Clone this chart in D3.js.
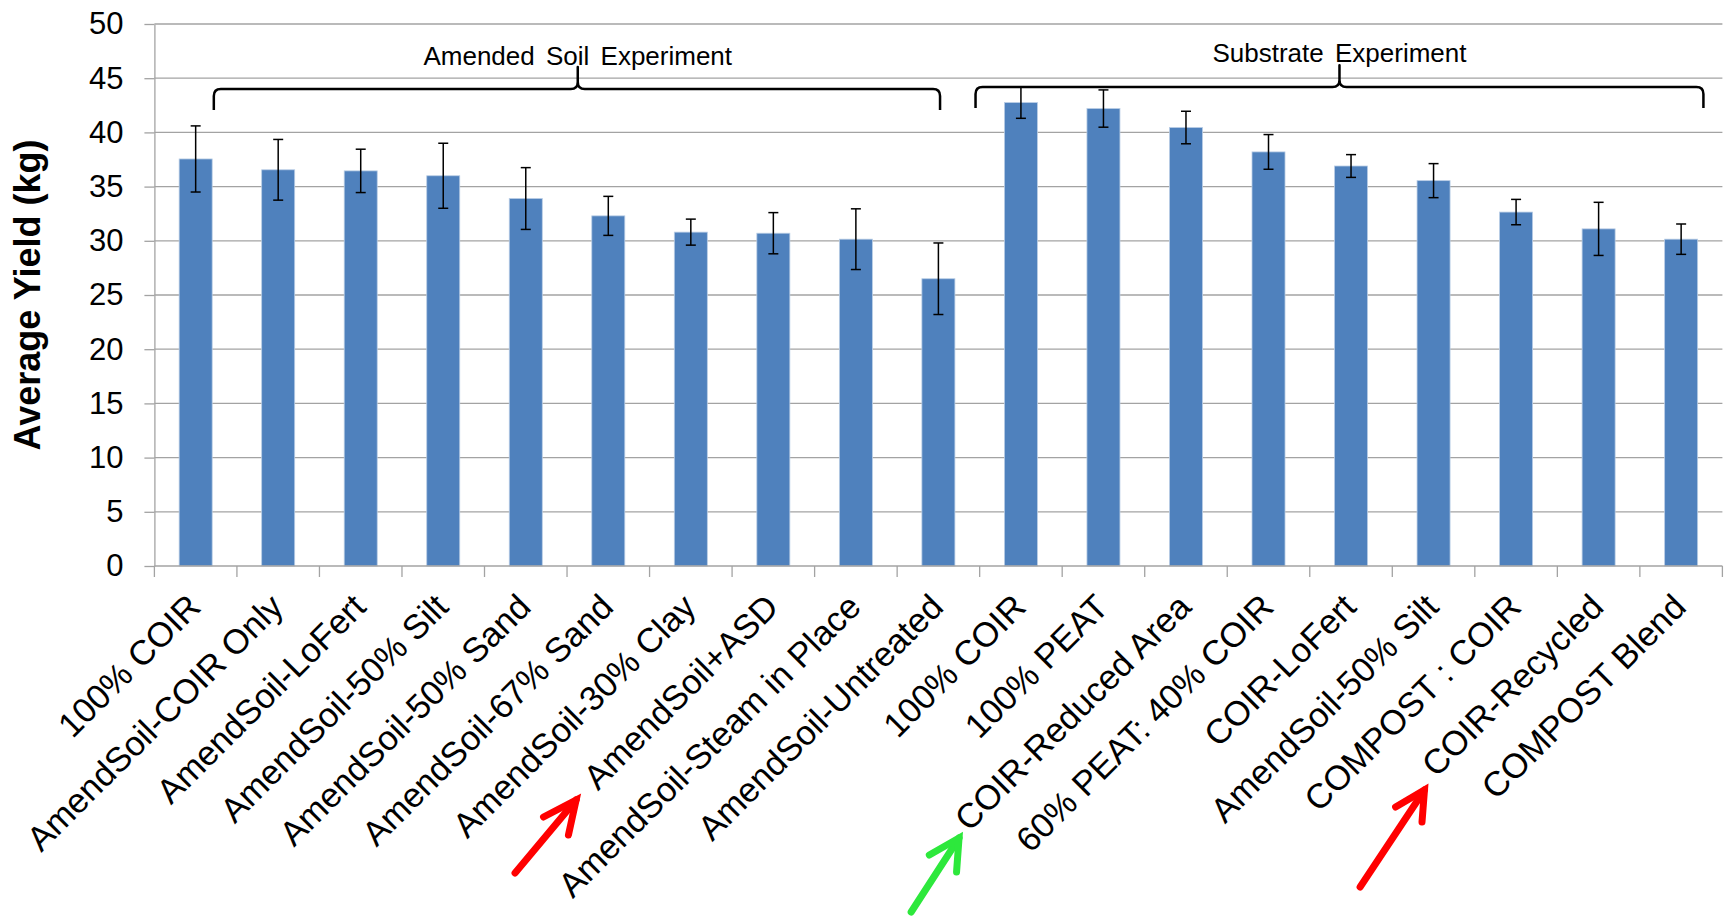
<!DOCTYPE html>
<html>
<head>
<meta charset="utf-8">
<script src="https://cdn.jsdelivr.net/npm/d3@7/dist/d3.min.js"></script>
<style>
  html, body { margin: 0; padding: 0; background: #ffffff; }
  svg { display: block; font-family: "Liberation Sans", Arial, sans-serif; }
</style>
</head>
<body>
<svg id="chart" width="1729" height="916"></svg>
<script>
// ---- data ----
const categories = [
  "100% COIR", "AmendSoil-COIR Only", "AmendSoil-LoFert", "AmendSoil-50% Silt",
  "AmendSoil-50% Sand", "AmendSoil-67% Sand", "AmendSoil-30% Clay", "AmendSoil+ASD",
  "AmendSoil-Steam in Place", "AmendSoil-Untreated",
  "100% COIR", "100% PEAT", "COIR-Reduced Area", "60% PEAT: 40% COIR", "COIR-LoFert",
  "AmendSoil-50% Silt", "COMPOST : COIR", "COIR-Recycled", "COMPOST Blend"
];
const yieldValues = [37.55, 36.55, 36.45, 36.0, 33.9, 32.3, 30.8, 30.7, 30.15, 26.5,
                     42.75, 42.2, 40.45, 38.2, 36.9, 35.55, 32.65, 31.1, 30.15];
const errorValues = [3.05, 2.8, 2.0, 3.0, 2.85, 1.8, 1.2, 1.9, 2.8, 3.3,
                     1.45, 1.72, 1.5, 1.6, 1.05, 1.57, 1.17, 2.45, 1.4];
const yTicks = [0, 5, 10, 15, 20, 25, 30, 35, 40, 45, 50];
const yTitle = "Average Yield (kg)";
const groupLabels = ["Amended Soil Experiment", "Substrate Experiment"];

// ---- layout ----
const plotLeft = 154.4, plotRight = 1722.4, plotTop = 24, plotBottom = 566;
const svg = d3.select("#chart");

const x = d3.scaleBand()
  .domain(d3.range(categories.length))
  .range([plotLeft, plotRight])
  .paddingInner(0.6)
  .paddingOuter(0.3);
const step = x.step();
const cx = i => x(i) + x.bandwidth() / 2;
const xu = u => plotLeft + u * step;   // position in category units

const y = d3.scaleLinear().domain([0, 50]).range([plotBottom, plotTop]);

// gridlines
svg.append("g").selectAll("line")
  .data(yTicks.filter(d => d > 0))
  .join("line")
  .attr("x1", plotLeft).attr("x2", plotRight)
  .attr("y1", d => y(d)).attr("y2", d => y(d))
  .attr("stroke", "#a3a3a3").attr("stroke-width", 1.3);

// y axis
const yAxis = svg.append("g")
  .attr("transform", `translate(${plotLeft},0)`)
  .call(d3.axisLeft(y).tickValues(yTicks).tickSize(10).tickPadding(21).tickSizeOuter(0));
yAxis.select(".domain").attr("stroke", "#a3a3a3").attr("stroke-width", 1.3);
yAxis.selectAll(".tick line").attr("stroke", "#a3a3a3").attr("stroke-width", 1.3);
yAxis.selectAll(".tick text")
  .attr("font-size", 31).attr("fill", "#000")
  .attr("font-family", "'Liberation Sans', Arial, sans-serif");

// bars
svg.append("g").selectAll("rect")
  .data(yieldValues)
  .join("rect")
  .attr("x", (d, i) => x(i))
  .attr("width", x.bandwidth())
  .attr("y", d => y(d))
  .attr("height", d => y(0) - y(d))
  .attr("fill", "#4f81bd")
  .attr("stroke", "#b9cde5").attr("stroke-width", 0.8);

// x axis
const xAxisG = svg.append("g");
xAxisG.append("line")
  .attr("x1", plotLeft).attr("x2", plotRight)
  .attr("y1", y(0)).attr("y2", y(0))
  .attr("stroke", "#a3a3a3").attr("stroke-width", 1.3);
xAxisG.selectAll("line.tk")
  .data(d3.range(categories.length + 1))
  .join("line").attr("class", "tk")
  .attr("x1", i => plotLeft + i * step).attr("x2", i => plotLeft + i * step)
  .attr("y1", y(0)).attr("y2", y(0) + 11)
  .attr("stroke", "#a3a3a3").attr("stroke-width", 1.3);
xAxisG.selectAll("text")
  .data(categories)
  .join("text")
  .attr("transform", (d, i) => `translate(${cx(i) + 7},${y(0) + 43}) rotate(-45)`)
  .attr("text-anchor", "end")
  .attr("font-size", 34.5)
  .attr("fill", "#000")
  .text(d => d);

// error bars
const eb = svg.append("g").attr("stroke", "#000").attr("stroke-width", 1.5);
yieldValues.forEach((v, i) => {
  const e = errorValues[i];
  const c = cx(i);
  eb.append("line").attr("x1", c).attr("x2", c).attr("y1", y(v + e)).attr("y2", y(v - e));
  eb.append("line").attr("x1", c - 5).attr("x2", c + 5).attr("y1", y(v + e)).attr("y2", y(v + e));
  eb.append("line").attr("x1", c - 5).attr("x2", c + 5).attr("y1", y(v - e)).attr("y2", y(v - e));
});

// braces (positions in category units / value units)
const braces = [
  { u0: 0.72, u1: 9.52, uc: 5.13, vEnd: 42.07, vLine: 44.0, vTip: 46.03, label: groupLabels[0], vText: 46.2 },
  { u0: 9.95, u1: 18.77, uc: 14.36, vEnd: 42.25, vLine: 44.19, vTip: 46.2, label: groupLabels[1], vText: 46.5 }
];
braces.forEach(b => {
  const x0 = xu(b.u0), x1 = xu(b.u1), xc = xu(b.uc);
  const yb = y(b.vEnd), yh = y(b.vLine), yt = y(b.vTip);
  const r = 7;
  const p = d3.path();
  p.moveTo(x0, yb);
  p.lineTo(x0, yh + r);
  p.quadraticCurveTo(x0, yh, x0 + r, yh);
  p.lineTo(xc - r, yh);
  p.quadraticCurveTo(xc, yh, xc, yh - r);
  p.lineTo(xc, yt);
  p.lineTo(xc, yh - r);
  p.quadraticCurveTo(xc, yh, xc + r, yh);
  p.lineTo(x1 - r, yh);
  p.quadraticCurveTo(x1, yh, x1, yh + r);
  p.lineTo(x1, yb);
  svg.append("path").attr("d", p.toString())
    .attr("fill", "none").attr("stroke", "#000").attr("stroke-width", 2.5)
    .attr("stroke-linejoin", "round");
  svg.append("text")
    .attr("x", xc).attr("y", y(b.vText))
    .attr("text-anchor", "middle")
    .attr("font-size", 26)
    .attr("word-spacing", 4)
    .attr("fill", "#000")
    .text(b.label);
});

// y axis title
svg.append("text")
  .attr("transform", `translate(40,295) rotate(-90)`)
  .attr("text-anchor", "middle")
  .attr("font-size", 36)
  .attr("font-weight", "bold")
  .attr("fill", "#000")
  .text(yTitle);

// arrows (category units, pixel offset below axis)
const arrows = [
  { color: "#ff0000", tail: [4.37, 307], tip: [5.11, 234], b1: [4.715, 251], b2: [5.017, 269] },
  { color: "#2de83c", tail: [9.17, 346], tip: [9.75, 272], b1: [9.39, 289], b2: [9.72, 306] },
  { color: "#ff0000", tail: [14.61, 321], tip: [15.39, 224], b1: [15.04, 241], b2: [15.36, 256] }
];
const pt = a => [xu(a[0]), y(0) + a[1]];
arrows.forEach(a => {
  const line = d3.line();
  svg.append("path").attr("d", line([pt(a.tail), pt(a.tip)]))
    .attr("stroke", a.color).attr("stroke-width", 7).attr("fill", "none").attr("stroke-linecap", "round");
  svg.append("path").attr("d", line([pt(a.b1), pt(a.tip), pt(a.b2)]))
    .attr("stroke", a.color).attr("stroke-width", 7).attr("fill", "none")
    .attr("stroke-linecap", "round").attr("stroke-linejoin", "miter");
});
</script>
</body>
</html>
